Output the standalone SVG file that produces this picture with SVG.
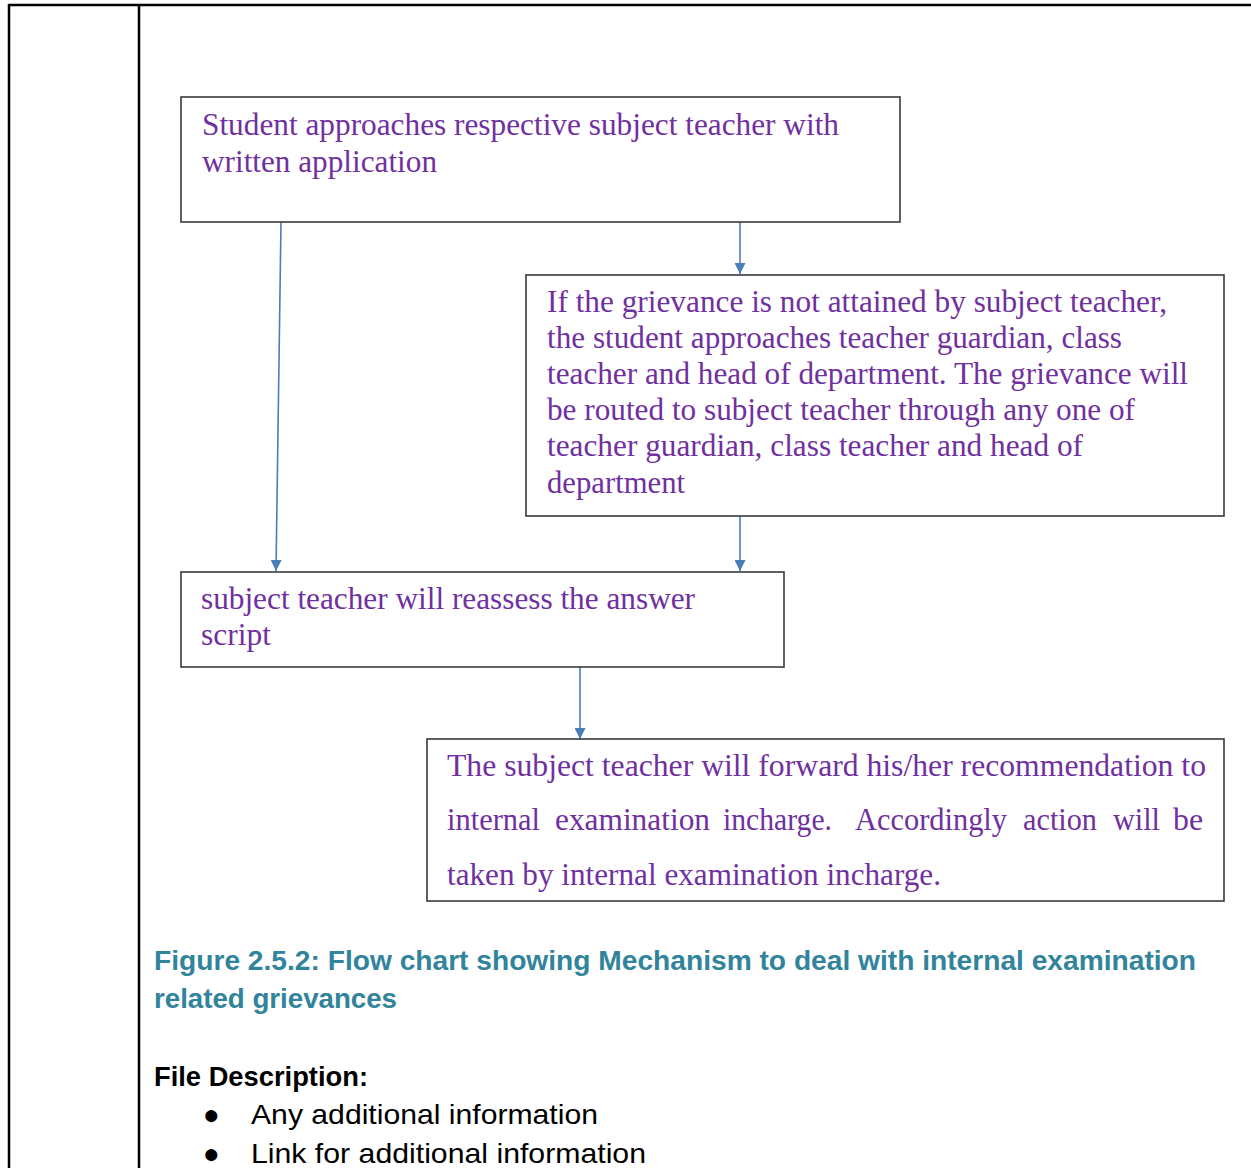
<svg xmlns="http://www.w3.org/2000/svg" width="1251" height="1168" viewBox="0 0 1251 1168">
<style>
.frame{stroke:#000;stroke-width:2.5;fill:none}
.box{fill:#fff;stroke:#3a3a3a;stroke-width:1.6}
.t{font-family:"Liberation Serif","Times New Roman",serif;font-size:32px;fill:#7030a0}
.conn{stroke:#4a7ebb;stroke-width:1.6;fill:none}
.cap{font-family:"Liberation Sans",Arial,sans-serif;font-size:28px;font-weight:bold;fill:#31849b}
.fd{font-family:"Liberation Sans",Arial,sans-serif;font-size:28px;fill:#000}
</style>
<defs>
<marker id="ah" viewBox="0 0 10 10" refX="10" refY="5" markerWidth="11" markerHeight="11" markerUnits="userSpaceOnUse" orient="auto">
<path d="M0,0 L10,5 L0,10 z" fill="#4a7ebb"/>
</marker>
</defs>
<rect width="1251" height="1168" fill="#fff"/>
<g id="table">
<line class="frame" x1="8.5" y1="5" x2="1251" y2="5"/>
<line class="frame" x1="9" y1="4" x2="9" y2="1168"/>
<line class="frame" x1="139" y1="4" x2="139" y2="1168"/>
</g>
<g id="connectors">
<line class="conn" x1="281" y1="222" x2="276" y2="571" marker-end="url(#ah)"/>
<line class="conn" x1="740" y1="222" x2="740" y2="274" marker-end="url(#ah)"/>
<line class="conn" x1="740" y1="516" x2="740" y2="571" marker-end="url(#ah)"/>
<line class="conn" x1="580" y1="667" x2="580" y2="739" marker-end="url(#ah)"/>
</g>
<g id="n1">
<rect class="box" x="181" y="97" width="719" height="125"/>
<text class="t" x="202" y="135" textLength="637" lengthAdjust="spacingAndGlyphs">Student approaches respective subject teacher with</text>
<text class="t" x="202" y="172" textLength="235" lengthAdjust="spacingAndGlyphs">written application</text>
</g>
<g id="n2">
<rect class="box" x="526" y="275" width="698" height="241"/>
<text class="t" x="547" y="312" textLength="620" lengthAdjust="spacingAndGlyphs">If the grievance is not attained by subject teacher,</text>
<text class="t" x="547" y="348" textLength="575" lengthAdjust="spacingAndGlyphs">the student approaches teacher guardian, class</text>
<text class="t" x="547" y="384" textLength="641" lengthAdjust="spacingAndGlyphs">teacher and head of department. The grievance will</text>
<text class="t" x="547" y="420" textLength="588" lengthAdjust="spacingAndGlyphs">be routed to subject teacher through any one of</text>
<text class="t" x="547" y="456" textLength="536" lengthAdjust="spacingAndGlyphs">teacher guardian, class teacher and head of</text>
<text class="t" x="547" y="493" textLength="138" lengthAdjust="spacingAndGlyphs">department</text>
</g>
<g id="n3">
<rect class="box" x="181" y="572" width="603" height="95"/>
<text class="t" x="201" y="609" textLength="494" lengthAdjust="spacingAndGlyphs">subject teacher will reassess the answer</text>
<text class="t" x="201" y="645" textLength="70" lengthAdjust="spacingAndGlyphs">script</text>
</g>
<g id="n4">
<rect class="box" x="427" y="739" width="797" height="162"/>
<text class="t" x="447" y="776" textLength="759" lengthAdjust="spacingAndGlyphs">The subject teacher will forward his/her recommendation to</text>
<text class="t" y="830"><tspan x="447" textLength="93" lengthAdjust="spacingAndGlyphs">internal</tspan><tspan x="555" textLength="155" lengthAdjust="spacingAndGlyphs">examination</tspan><tspan x="723" textLength="109" lengthAdjust="spacingAndGlyphs">incharge.</tspan><tspan x="855" textLength="152" lengthAdjust="spacingAndGlyphs">Accordingly</tspan><tspan x="1023" textLength="74" lengthAdjust="spacingAndGlyphs">action</tspan><tspan x="1113" textLength="47" lengthAdjust="spacingAndGlyphs">will</tspan><tspan x="1173" textLength="30" lengthAdjust="spacingAndGlyphs">be</tspan></text>
<text class="t" x="447" y="885" textLength="494" lengthAdjust="spacingAndGlyphs">taken by internal examination incharge.</text>
</g>
<g id="caption">
<text class="cap" x="154" y="970" textLength="1042" lengthAdjust="spacingAndGlyphs">Figure 2.5.2: Flow chart showing Mechanism to deal with internal examination</text>
<text class="cap" x="154" y="1008" textLength="243" lengthAdjust="spacingAndGlyphs">related grievances</text>
</g>
<g id="description">
<text class="fd" x="154" y="1086" font-weight="bold" textLength="214" lengthAdjust="spacingAndGlyphs">File Description:</text>
<text class="fd" x="203" y="1124" font-size="22">●</text>
<text class="fd" x="251" y="1124" textLength="347" lengthAdjust="spacingAndGlyphs">Any additional information</text>
<text class="fd" x="203" y="1163" font-size="22">●</text>
<text class="fd" x="251" y="1163" textLength="395" lengthAdjust="spacingAndGlyphs">Link for additional information</text>
</g>
</svg>
